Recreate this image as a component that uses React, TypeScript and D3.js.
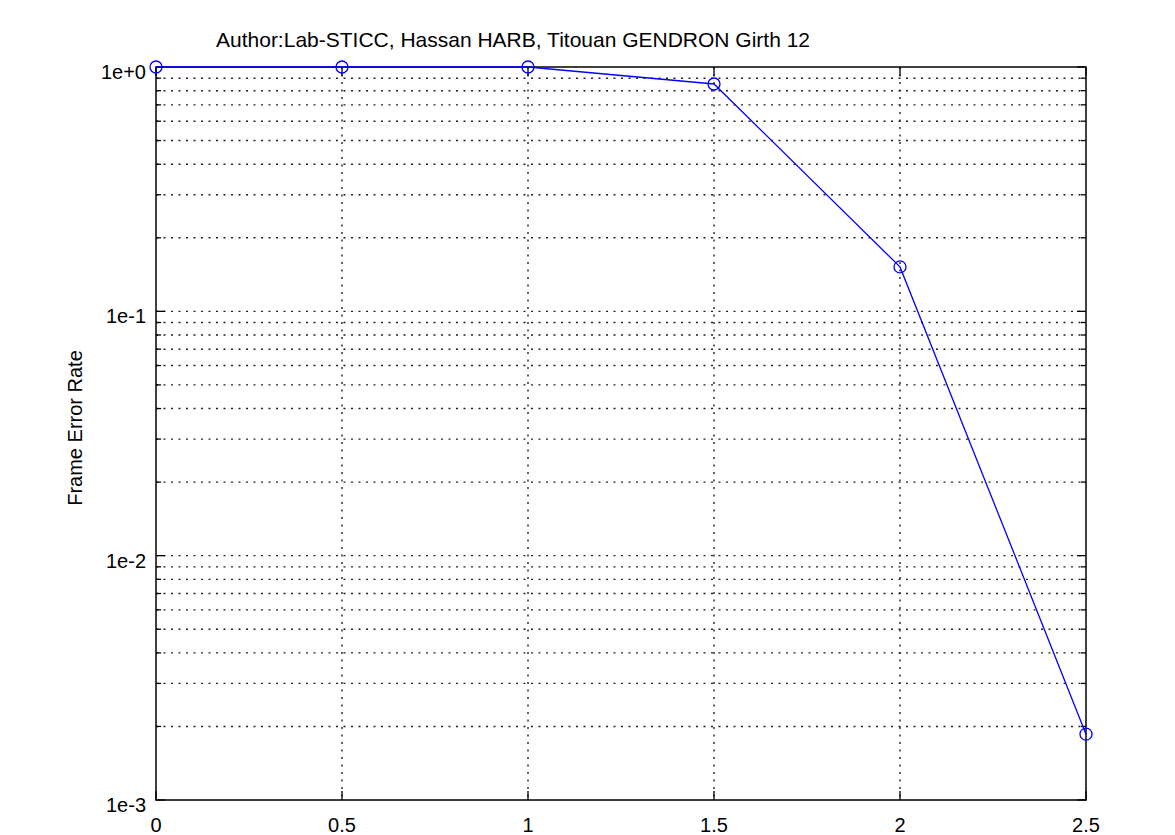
import React from "react";
import * as d3 from "d3";

const snrValues = [0, 0.5, 1, 1.5, 2, 2.5];
const ferValues = [1.0, 1.0, 1.0, 0.852, 0.152, 0.00186];
const xTickValues = [0, 0.5, 1, 1.5, 2, 2.5];
const xTickLabels = ["0", "0.5", "1", "1.5", "2", "2.5"];
const yMajorValues = [1, 0.1, 0.01, 0.001];
const yMajorLabels = ["1e+0", "1e-1", "1e-2", "1e-3"];
const yMinorMultipliers = [2, 3, 4, 5, 6, 7, 8, 9];
const titleText = "Author:Lab-STICC, Hassan HARB, Titouan GENDRON Girth 12";
const yAxisTitle = "Frame Error Rate";

const W = 1175;
const H = 835;
const left = 156;
const right = 1086;
const top = 67;
const bottom = 800;
const font = "'Liberation Sans', Arial, Helvetica, sans-serif";

export default function App() {
  const x = d3.scaleLinear().domain([0, 2.5]).range([left, right]);
  const y = d3.scaleLog().domain([0.001, 1]).range([bottom, top]);

  const minorValues: number[] = [];
  [0.001, 0.01, 0.1].forEach((d) => yMinorMultipliers.forEach((m) => minorValues.push(d * m)));

  const line = d3
    .line<number>()
    .x((_, i) => x(snrValues[i]))
    .y((v) => y(v));

  const gridColor = "#222";
  const dash = "2,5.5";

  return (
    <svg width={W} height={H} style={{ position: "absolute", left: 0, top: 0, background: "#fff" }}>
      <rect x={0} y={0} width={W} height={H} fill="#fff" />
      {/* horizontal grid */}
      {[...yMajorValues.slice(1, 3), ...minorValues].map((v, i) => (
        <line key={"hg" + i} x1={left} x2={right} y1={y(v)} y2={y(v)} stroke={gridColor} strokeWidth={1.4} strokeDasharray={dash} />
      ))}
      {/* vertical grid */}
      {xTickValues.slice(1, -1).map((v, i) => (
        <line key={"vg" + i} x1={x(v)} x2={x(v)} y1={top} y2={bottom} stroke={gridColor} strokeWidth={1.4} strokeDasharray={dash} />
      ))}
      {/* y ticks */}
      {yMajorValues.map((v, i) => (
        <g key={"ym" + i}>
          <line x1={left} x2={left + 9} y1={y(v)} y2={y(v)} stroke="#000" strokeWidth={1.3} />
          <line x1={right} x2={right - 9} y1={y(v)} y2={y(v)} stroke="#000" strokeWidth={1.3} />
          <text x={146} y={y(v) + 12} textAnchor="end" fontFamily={font} fontSize={20} fill="#000">
            {yMajorLabels[i]}
          </text>
        </g>
      ))}
      {minorValues.map((v, i) => (
        <g key={"yn" + i}>
          <line x1={left} x2={left + 5} y1={y(v)} y2={y(v)} stroke="#000" strokeWidth={1.3} />
          <line x1={right} x2={right - 5} y1={y(v)} y2={y(v)} stroke="#000" strokeWidth={1.3} />
        </g>
      ))}
      {/* x ticks */}
      {xTickValues.map((v, i) => (
        <g key={"xt" + i}>
          <line x1={x(v)} x2={x(v)} y1={bottom} y2={bottom - 9} stroke="#000" strokeWidth={1.3} />
          <line x1={x(v)} x2={x(v)} y1={top} y2={top + 9} stroke="#000" strokeWidth={1.3} />
          <text x={x(v)} y={832} textAnchor="middle" fontFamily={font} fontSize={20} fill="#000">
            {xTickLabels[i]}
          </text>
        </g>
      ))}
      {/* frame */}
      <rect x={left} y={top} width={right - left} height={bottom - top} fill="none" stroke="#000" strokeWidth={1.5} />
      {/* series */}
      <path d={line(ferValues) || ""} fill="none" stroke="#0000ff" strokeWidth={1.3} />
      {ferValues.map((v, i) => (
        <circle key={"pt" + i} cx={x(snrValues[i])} cy={y(v)} r={6} fill="none" stroke="#0000ff" strokeWidth={1.3} />
      ))}
      {/* titles */}
      <text x={216} y={47} fontFamily={font} fontSize={21} fill="#000">
        {titleText}
      </text>
      <text
        transform={`translate(82,${428}) rotate(-90)`}
        textAnchor="middle"
        fontFamily={font}
        fontSize={20}
        fill="#000"
      >
        {yAxisTitle}
      </text>
    </svg>
  );
}
